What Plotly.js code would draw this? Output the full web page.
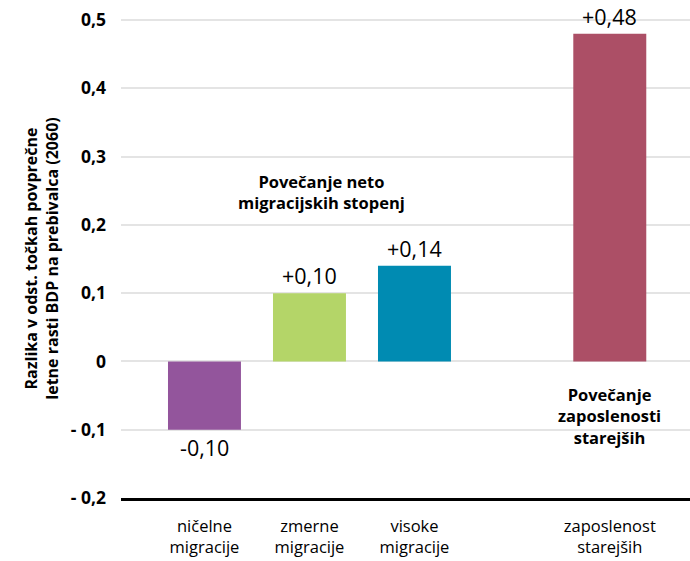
<!DOCTYPE html>
<html>
<head>
<meta charset="utf-8">
<script src="https://cdn.plot.ly/plotly-3.0.1.min.js"></script>
<style>html,body{margin:0;padding:0;background:#fff;}#chart{width:690px;height:561px;}</style>
</head>
<body>
<div id="chart"></div>
<script>
const categories = ["ničelne<br>migracije", "zmerne<br>migracije", "visoke<br>migracije", "zaposlenost<br>starejših"];
const values = [-0.10, 0.10, 0.14, 0.48];
const valueLabels = ["-0,10", "+0,10", "+0,14", "+0,48"];
const colors = ["#93559c", "#b4d568", "#008bb2", "#ac4f66"];
const yTickVals = [-0.2, -0.1, 0, 0.1, 0.2, 0.3, 0.4, 0.5];
const yTickText = ["- 0,2", "- 0,1", "0", "0,1", "0,2", "0,3", "0,4", "0,5"];
const groupNote = "Povečanje neto<br>migracijskih stopenj";
const employNote = "Povečanje<br>zaposlenosti<br>starejših";

// layout: gap between migration group and employment bar
const xPos = categories.map((c, i) => i < 3 ? i : i + 0.86);

const trace = {
  type: "bar",
  x: xPos,
  y: values,
  width: 0.695,
  marker: {color: colors},
  hoverinfo: "skip"
};

const FONT = "'Open Sans', Lato, sans-serif";
const annotations = values.map((v, i) => ({
  x: xPos[i], y: v, xref: "x", yref: "y",
  text: valueLabels[i], showarrow: false,
  yanchor: v >= 0 ? "bottom" : "top",
  yshift: v >= 0 ? 1 : -1,
  font: {family: FONT, size: 21.5, color: "#000"}
}));
annotations.push({
  x: 1.11, y: 0.248, xref: "x", yref: "y", text: groupNote, showarrow: false,
  font: {family: FONT, size: 16.5, color: "#000", weight: "bold"}, align: "center"
});
annotations.push({
  x: xPos[3], y: -0.08, xref: "x", yref: "y", text: employNote, showarrow: false,
  font: {family: FONT, size: 16.5, color: "#000", weight: "bold"}, align: "center"
});

const layout = {
  width: 690, height: 561,
  margin: {l: 121, r: 0, t: 19, b: 63},
  paper_bgcolor: "#fff", plot_bgcolor: "#fff",
  showlegend: false,
  xaxis: {
    range: [-0.795, 4.624],
    tickvals: xPos, ticktext: categories,
    showgrid: false, zeroline: false,
    showline: true, linecolor: "#000", linewidth: 3,
    ticks: "", ticklen: 0,
    ticklabelstandoff: 11,
    tickfont: {family: FONT, size: 16.5, color: "#000"}
  },
  yaxis: {
    range: [-0.2, 0.5015],
    tickvals: yTickVals, ticktext: yTickText,
    showgrid: true, gridcolor: "#e4e4e4", gridwidth: 2,
    zeroline: false, showline: false, ticks: "",
    ticklabelstandoff: 14,
    tickfont: {family: FONT, size: 17.5, color: "#000", weight: "bold"},
    title: {
      text: "Razlika v odst. točkah povprečne<br>letne rasti BDP na prebivalca (2060)",
      font: {family: FONT, size: 16, color: "#000", weight: "bold"},
      standoff: 8
    }
  },
  annotations: annotations
};

Plotly.newPlot("chart", [trace], layout, {displayModeBar: false, staticPlot: true});
</script>
</body>
</html>
